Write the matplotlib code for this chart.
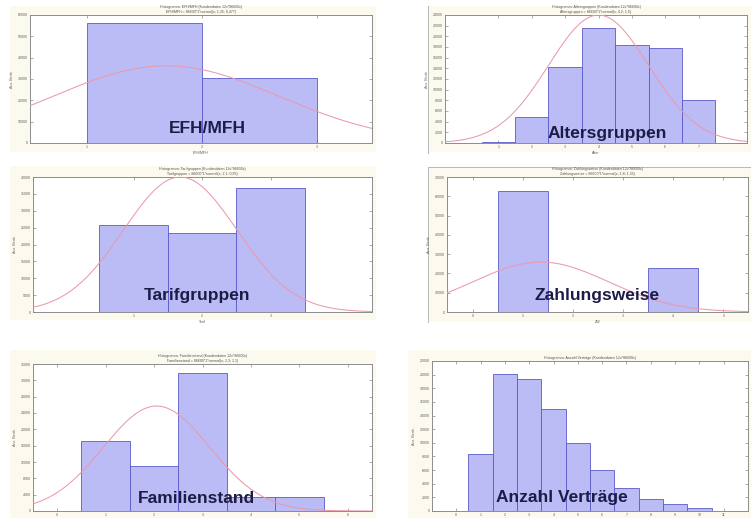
import numpy as np
import matplotlib
matplotlib.use("Agg")
import matplotlib.pyplot as plt
from matplotlib.patches import Rectangle
from matplotlib.lines import Line2D

plt.rcParams["font.family"] = ["Liberation Sans", "DejaVu Sans"]

W, H = 751, 518

# ---- data per histogram -------------------------------------------------
efh_edges = [1, 2, 3]
efh_counts = [56300, 30300]

alter_classes = [1, 2, 3, 4, 5, 6, 7]
alter_counts = [250, 4900, 14300, 21500, 18400, 17850, 8000]

tarif_classes = [1, 2, 3]
tarif_counts = [25700, 23500, 36600]

zahl_classes = [1, 4]
zahl_counts = [62600, 22800]

fam_classes = [1, 2, 3, 4, 5]
fam_counts = [17200, 11000, 33900, 3460, 3460]

vertr_classes = [1, 2, 3, 4, 5, 6, 7, 8, 9, 10]
vertr_counts = [8340, 20060, 19400, 15000, 10030, 6030, 3430, 1780, 970, 400]

# expected normal curves: (mean, sd, peak height)
efh_normal = (1.69, 0.98, 36200)
alter_normal = (4.0, 1.5, 24000)
tarif_normal = (1.68, 0.83, 40000)
zahl_normal = (1.35, 1.35, 25900)
fam_normal = (2.05, 1.1, 25700)

titles = {
    "EFH/MFH": ["Histogramm: EFH/MFH (Kundendaten 12v*86600c)",
                "EFH/MFH = 86600*1*normal(x; 1,35; 0,477)"],
    "Altersgruppen": ["Histogramm: Altersgruppen (Kundendaten 12v*86600c)",
                      "Altersgruppen = 86600*1*normal(x; 4,2; 1,5)"],
    "Tarifgruppen": ["Histogramm: Tarifgruppen (Kundendaten 12v*86600c)",
                     "Tarifgruppen = 86600*1*normal(x; 2,1; 0,85)"],
    "Zahlungsweise": ["Histogramm: Zahlungsweise (Kundendaten 12v*86600c)",
                      "Zahlungsweise = 86600*1*normal(x; 1,8; 1,35)"],
    "Familienstand": ["Histogramm: Familienstand (Kundendaten 12v*86600c)",
                      "Familienstand = 86600*1*normal(x; 2,3; 1,1)"],
    "Anzahl Verträge": ["Histogramm: Anzahl Verträge (Kundendaten 12v*86600c)"],
}

BAR_FILL = "#BBBBF6"
BAR_EDGE = "#5A5AC8"
CURVE = "#E99AAB"
CREAM = "#FCFAEE"
LABEL = "#1C1C46"

fig = plt.figure(figsize=(W / 100, H / 100), dpi=100)
fig.patch.set_facecolor("white")


def px_rect(l, t, r, b):
    return [l / W, 1 - b / H, (r - l) / W, (b - t) / H]


# cream window backgrounds
for (l, t, r, b) in [(10, 6, 376, 152), (428, 6, 751, 152),
                     (10, 166, 376, 320), (428, 167, 751, 322),
                     (10, 350, 376, 518), (408, 350, 751, 518)]:
    fig.patches.append(Rectangle((l / W, 1 - b / H), (r - l) / W, (b - t) / H,
                                 transform=fig.transFigure, facecolor=CREAM,
                                 edgecolor="none", zorder=-5))

# window frame lines on the right-hand screenshots
for (x0, y0, x1, y1) in [(428, 6, 428, 153), (428, 167, 428, 322),
                         (428, 167, 751, 167)]:
    fig.lines.append(Line2D([x0 / W, x1 / W], [1 - y0 / H, 1 - y1 / H],
                            transform=fig.transFigure, color="#B8B8B8",
                            lw=0.7, zorder=-4))


def style_axes(ax, xlim, ylim, xticks, ystep, name, xlabel):
    ax.set_facecolor("white")
    ax.set_xlim(*xlim)
    ax.set_ylim(*ylim)
    ax.set_xticks(xticks)
    ax.set_yticks(np.arange(0, ylim[1] + 1, ystep))
    ax.tick_params(direction="in", length=2, width=0.5, colors="#8A8A8A",
                   labelsize=2.6, labelcolor="#606060", pad=1.5,
                   top=True, right=True)
    for s in ax.spines.values():
        s.set_color("#8C8C8C")
        s.set_linewidth(0.7)
    ax.set_ylabel("Anz. Beob.", fontsize=2.6, color="#606060", labelpad=3)
    if xlabel:
        ax.set_xlabel(xlabel, fontsize=2.6, color="#606060", labelpad=1.5)
    ax.set_title("\n".join(titles[name]), fontsize=2.6, color="#505050",
                 pad=1.5, linespacing=1.4)


def add_curve(ax, xlim, params):
    m, s, peak = params
    x = np.linspace(xlim[0], xlim[1], 400)
    ax.plot(x, peak * np.exp(-(x - m) ** 2 / (2 * s ** 2)), color=CURVE,
            lw=0.75, clip_on=True, zorder=3)


def bars(ax, centers, counts, width=1.0, align="center"):
    ax.bar(centers, counts, width=width, align=align, color=BAR_FILL,
           edgecolor=BAR_EDGE, linewidth=0.6, zorder=2)


def big_label(text, cx, base):
    fig.text(cx / W, 1 - base / H, text, ha="center", va="baseline",
             fontsize=12.5, fontweight="bold", color=LABEL, zorder=10)


# EFH/MFH
ax1 = fig.add_axes(px_rect(30, 15, 372, 143))
xl = (0.507, 3.48)
bars(ax1, efh_edges[:-1], efh_counts, align="edge")
add_curve(ax1, xl, efh_normal)
style_axes(ax1, xl, (0, 60000), efh_edges, 10000, "EFH/MFH", "EFH/MFH")
big_label("EFH/MFH", 207, 133)

# Altersgruppen
ax2 = fig.add_axes(px_rect(445, 15, 747, 143))
xl = (-0.6, 8.45)
bars(ax2, alter_classes, alter_counts)
add_curve(ax2, xl, alter_normal)
style_axes(ax2, xl, (0, 24000), alter_classes, 2000, "Altersgruppen", "Alter")
big_label("Altersgruppen", 607, 138)

# Tarifgruppen
ax3 = fig.add_axes(px_rect(33, 177, 372, 312))
xl = (-0.47, 4.48)
bars(ax3, tarif_classes, tarif_counts)
add_curve(ax3, xl, tarif_normal)
style_axes(ax3, xl, (0, 40000), tarif_classes, 5000, "Tarifgruppen", "Tarif")
big_label("Tarifgruppen", 197, 300)

# Zahlungsweise
ax4 = fig.add_axes(px_rect(447, 177, 748, 312))
xl = (-0.52, 5.49)
bars(ax4, zahl_classes, zahl_counts)
add_curve(ax4, xl, zahl_normal)
style_axes(ax4, xl, (0, 70000), list(range(0, 6)), 10000, "Zahlungsweise", "ZW")
big_label("Zahlungsweise", 597, 300)

# Familienstand
ax5 = fig.add_axes(px_rect(33, 364, 372, 511))
xl = (-0.5, 6.5)
bars(ax5, fam_classes, fam_counts)
add_curve(ax5, xl, fam_normal)
style_axes(ax5, xl, (0, 36000), list(range(0, 7)), 4000, "Familienstand", None)
big_label("Familienstand", 196, 503)

# Anzahl Verträge (no fitted curve)
ax6 = fig.add_axes(px_rect(432, 361, 748, 511))
xl = (-1.0, 12.0)
bars(ax6, vertr_classes, vertr_counts)
style_axes(ax6, xl, (0, 22000), list(range(0, 12)), 2000, "Anzahl Verträge", None)
big_label("Anzahl Verträge", 562, 502)

fig.savefig("out.png", dpi=100, facecolor="white")
